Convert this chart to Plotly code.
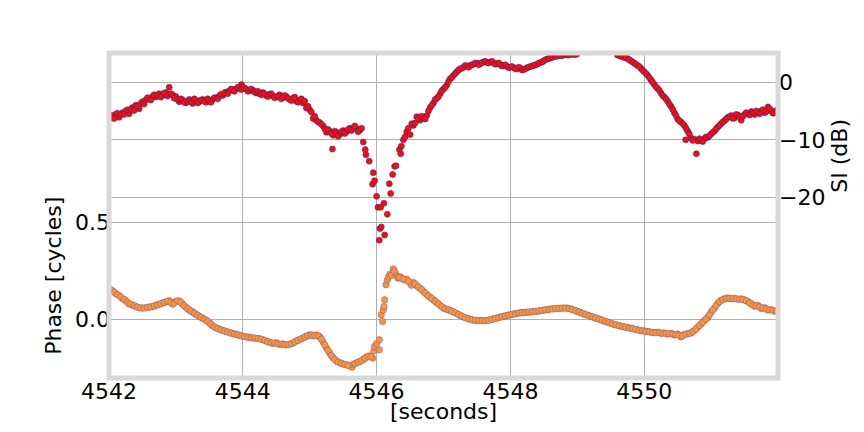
import plotly.graph_objects as go

# ---------------- data ----------------
# SI (dB) samples
si_t = [4542.00, 4542.05, 4542.10, 4542.15, 4542.20, 4542.25, 4542.30, 4542.35, 4542.40, 4542.45,
        4542.50, 4542.55, 4542.60, 4542.65, 4542.70, 4542.75, 4542.80, 4542.85, 4542.90, 4542.95,
        4543.00, 4543.05, 4543.10, 4543.15, 4543.20, 4543.25, 4543.30, 4543.35, 4543.40, 4543.45,
        4543.50, 4543.55, 4543.60, 4543.65, 4543.70, 4543.75, 4543.80, 4543.85, 4543.90, 4543.95,
        4543.98, 4544.00, 4544.05, 4544.10, 4544.15, 4544.20, 4544.25, 4544.30, 4544.35, 4544.40,
        4544.45, 4544.50, 4544.55, 4544.60, 4544.65, 4544.70, 4544.75, 4544.80, 4544.85, 4544.90,
        4544.95, 4545.00, 4545.05, 4545.10, 4545.15, 4545.20, 4545.25, 4545.30, 4545.34, 4545.35,
        4545.40, 4545.45, 4545.50, 4545.55, 4545.60, 4545.65, 4545.70, 4545.75,
        4545.80, 4545.83, 4545.84, 4545.89, 4545.94, 4545.95, 4545.97, 4546.00, 4546.02, 4546.04,
        4546.05, 4546.06, 4546.07, 4546.11, 4546.12, 4546.16, 4546.19, 4546.21, 4546.24, 4546.27,
        4546.29, 4546.34, 4546.36, 4546.37,
        4546.40, 4546.45, 4546.50, 4546.55, 4546.60, 4546.65, 4546.70, 4546.75, 4546.80, 4546.85,
        4546.90, 4546.95, 4547.00, 4547.05, 4547.10, 4547.15, 4547.20, 4547.25, 4547.30, 4547.35,
        4547.40, 4547.45, 4547.50, 4547.55, 4547.60, 4547.65, 4547.70, 4547.75, 4547.80, 4547.85,
        4547.90, 4547.95, 4548.00, 4548.05, 4548.10, 4548.15, 4548.20, 4548.25, 4548.30, 4548.35,
        4548.40, 4548.45, 4548.50, 4548.55, 4548.60, 4548.65, 4548.70, 4548.75, 4548.80, 4548.85,
        4548.90, 4548.95, 4549.00, 4549.10, 4549.25, 4549.40, 4549.52, 4549.60, 4549.65, 4549.70,
        4549.75, 4549.80, 4549.85, 4549.90, 4549.95, 4550.00, 4550.05, 4550.10, 4550.15, 4550.20,
        4550.25, 4550.30, 4550.35, 4550.40, 4550.45, 4550.50, 4550.55, 4550.60, 4550.62, 4550.65,
        4550.70, 4550.75, 4550.78, 4550.80, 4550.85, 4550.90, 4550.95, 4551.00, 4551.05, 4551.10,
        4551.15, 4551.20, 4551.25, 4551.30, 4551.35, 4551.40, 4551.45, 4551.50, 4551.55, 4551.60,
        4551.65, 4551.70, 4551.75, 4551.80, 4551.85, 4551.90, 4551.95, 4552.00]
si_db = [-6.4, -6.0, -5.6, -6.1, -5.3, -5.0, -5.5, -4.4, -4.0, -4.6,
         -3.4, -3.1, -2.9, -2.5, -2.6, -2.0, -2.3, -1.8, -0.9, -2.2,
         -2.5, -3.4, -3.1, -3.6, -3.0, -3.7, -3.2, -3.4, -3.0, -3.5,
         -3.2, -3.0, -2.7, -2.4, -2.3, -1.7, -1.5, -1.3, -1.2, -1.0,
         -0.4, -0.9, -1.2, -1.5, -1.4, -1.9, -2.0, -1.8, -2.3, -2.1,
         -2.4, -2.6, -2.2, -2.7, -2.5, -3.0, -2.8, -3.3, -3.1, -3.6,
         -4.5, -4.8, -6.3, -6.6, -7.0, -7.6, -8.7, -8.5, -11.6, -9.2,
         -8.7, -9.1, -8.4, -8.6, -8.0, -7.9, -8.1, -8.3,
         -10.4, -11.7, -12.6, -13.7, -17.7, -15.7, -17.1, -19.8, -21.7, -27.4,
         -25.4, -21.7, -25.1, -21.0, -26.5, -22.9, -17.6, -19.3, -16.0, -14.6,
         -14.5, -11.7, -12.4, -11.1,
         -10.0, -8.6, -9.1, -7.5, -6.0, -6.6, -6.2, -5.8, -4.4, -3.6,
         -2.8, -2.0, -1.2, -0.5, 0.6, 1.2, 1.8, 2.3, 2.6, 2.8,
         2.9, 3.1, 3.3, 3.2, 3.5, 3.4, 3.5, 3.3, 3.2, 3.0,
         2.9, 2.7, 2.6, 2.5, 2.3, 2.4, 2.2, 2.5, 2.7, 2.9,
         3.1, 3.4, 3.7, 4.0, 4.2, 4.4, 4.5, 4.6, 4.7, 4.7,
         4.8, 4.8, 4.9, 5.9, 6.5, 6.4, 5.6, 4.7, 4.5, 4.3,
         4.1, 3.7, 3.3, 2.9, 2.4, 1.8, 1.2, 0.4, -0.4, -1.1,
         -1.9, -2.6, -3.3, -4.2, -5.3, -6.4, -6.9, -7.5, -10.0, -8.5,
         -9.7, -9.9, -12.4, -10.2, -10.1, -9.8, -9.6, -9.0, -8.5, -7.8,
         -7.2, -6.7, -6.1, -5.8, -6.2, -5.7, -6.6, -5.6, -5.4, -5.1,
         -5.6, -5.2, -5.0, -5.3, -4.3, -5.0, -5.3, -5.0]

# additional SI samples between the ones above
si_t_extra = [4542.025, 4542.075, 4542.125, 4542.175, 4542.225, 4542.275, 4542.325, 4542.375, 4542.425, 4542.475,
              4542.525, 4542.575, 4542.625, 4542.675, 4542.725, 4542.775, 4542.825, 4542.875, 4542.925, 4542.975,
              4543.025, 4543.075, 4543.125, 4543.175, 4543.225, 4543.275, 4543.325, 4543.375, 4543.425, 4543.475,
              4543.525, 4543.575, 4543.625, 4543.675, 4543.725, 4543.775, 4543.825, 4543.875, 4543.925, 4543.975,
              4544.025, 4544.075, 4544.125, 4544.175, 4544.225, 4544.275, 4544.325, 4544.375, 4544.425, 4544.475,
              4544.525, 4544.575, 4544.625, 4544.675, 4544.725, 4544.775, 4544.825, 4544.875, 4544.925, 4544.975,
              4545.025, 4545.075, 4545.125, 4545.175, 4545.225, 4545.275, 4545.325, 4545.375, 4545.425, 4545.475,
              4545.525, 4545.575, 4545.625, 4545.675, 4545.725, 4545.775,
              4546.425, 4546.475, 4546.525, 4546.575, 4546.625, 4546.675, 4546.725, 4546.775, 4546.825, 4546.875,
              4546.925, 4546.975, 4547.025, 4547.075, 4547.125, 4547.175, 4547.225, 4547.275, 4547.325, 4547.375,
              4547.425, 4547.475, 4547.525, 4547.575, 4547.625, 4547.675, 4547.725, 4547.775, 4547.825, 4547.875,
              4547.925, 4547.975, 4548.025, 4548.075, 4548.125, 4548.175, 4548.225, 4548.275, 4548.325, 4548.375,
              4548.425, 4548.475, 4548.525, 4548.575, 4548.625, 4548.675, 4548.725, 4548.775, 4548.825, 4548.875,
              4548.925, 4548.975, 4549.625, 4549.675, 4549.725, 4549.775, 4549.825, 4549.875, 4549.925, 4549.975,
              4550.025, 4550.075, 4550.125, 4550.175, 4550.225, 4550.275, 4550.325, 4550.375, 4550.425, 4550.475,
              4550.525, 4550.575, 4550.625, 4550.675, 4550.725, 4550.825, 4550.875, 4550.925, 4550.975, 4551.025,
              4551.075, 4551.125, 4551.175, 4551.225, 4551.275, 4551.325, 4551.375, 4551.425, 4551.475, 4551.525,
              4551.575, 4551.625, 4551.675, 4551.725, 4551.775, 4551.825, 4551.875, 4551.925, 4551.975]
si_db_extra = [-5.7, -6.3, -5.4, -5.6, -5.6, -4.8, -4.7, -4.9, -4.1, -3.7,
               -3.8, -2.7, -3.1, -2.2, -2.3, -2.6, -1.9, -2.4, -2.0, -2.8,
               -3.0, -2.9, -3.5, -3.3, -3.4, -2.9, -3.6, -3.1, -3.3, -2.9,
               -3.5, -2.7, -2.9, -2.1, -1.9, -2.0, -1.2, -1.6, -0.9, -1.3,
               -1.0, -1.6, -1.2, -1.7, -1.6, -2.2, -2.0, -2.5, -2.0, -2.7,
               -2.4, -2.9, -2.3, -2.8, -3.2, -2.6, -3.5, -2.9, -3.3, -4.2,
               -5.2, -5.9, -6.9, -7.3, -8.1, -8.2, -8.9, -8.5, -9.4, -8.6,
               -8.9, -8.2, -8.4, -7.6, -8.6, -8.0,
               -9.5, -8.0, -7.2, -7.1, -6.3, -5.9, -6.4, -5.0, -4.0, -3.0,
               -2.5, -1.5, -0.9, 0.1, 0.8, 1.5, 2.1, 2.4, 2.9, 2.6,
               3.0, 3.3, 3.0, 3.4, 3.6, 3.3, 3.6, 3.1, 3.3, 2.8,
               3.0, 2.5, 2.7, 2.3, 2.6, 2.1, 2.3, 2.6, 2.8, 3.0,
               3.3, 3.5, 3.9, 4.1, 4.3, 4.5, 4.6, 4.6, 4.8, 4.7,
               4.9, 4.8, 4.6, 4.4, 4.2, 3.9, 3.5, 3.1, 2.7, 2.1,
               1.5, 0.8, 0.0, -0.8, -1.4, -2.3, -2.9, -3.8, -4.7, -5.8,
               -6.7, -7.2, -8.0, -9.0, -10.1, -9.8, -10.3, -9.5, -9.3, -8.7,
               -8.1, -7.5, -6.9, -6.4, -6.0, -6.3, -5.6, -6.0, -5.9, -5.3,
               -5.7, -5.3, -5.0, -5.5, -4.8, -5.1, -4.6, -5.4, -4.9]

# Phase (cycles) samples
ph_t = [4542.00, 4542.05, 4542.10, 4542.15, 4542.20, 4542.25, 4542.30, 4542.35, 4542.40, 4542.45,
        4542.50, 4542.55, 4542.60, 4542.65, 4542.70, 4542.75, 4542.80, 4542.85, 4542.90, 4542.95,
        4543.00, 4543.05, 4543.10, 4543.15, 4543.20, 4543.25, 4543.30, 4543.35, 4543.40, 4543.45,
        4543.50, 4543.55, 4543.60, 4543.65, 4543.70, 4543.75, 4543.80, 4543.85, 4543.90, 4543.95,
        4544.00, 4544.05, 4544.10, 4544.15, 4544.20, 4544.25, 4544.30, 4544.35, 4544.40, 4544.45,
        4544.50, 4544.55, 4544.60, 4544.65, 4544.70, 4544.75, 4544.80, 4544.85, 4544.90, 4544.95,
        4545.00, 4545.05, 4545.10, 4545.15, 4545.20, 4545.25, 4545.30, 4545.35, 4545.40, 4545.45,
        4545.50, 4545.55, 4545.60, 4545.63, 4545.65, 4545.70, 4545.75, 4545.80, 4545.85, 4545.90,
        4545.94, 4545.96, 4545.97, 4546.00, 4546.04, 4546.04, 4546.07, 4546.09, 4546.10, 4546.11,
        4546.12, 4546.14, 4546.16, 4546.18, 4546.20, 4546.22, 4546.25, 4546.28, 4546.30, 4546.32,
        4546.35, 4546.38, 4546.42, 4546.45, 4546.50, 4546.52, 4546.55, 4546.60, 4546.65, 4546.70,
        4546.75, 4546.80, 4546.85, 4546.90, 4546.95, 4547.00, 4547.05, 4547.10, 4547.15, 4547.20,
        4547.25, 4547.30, 4547.35, 4547.40, 4547.45, 4547.50, 4547.55, 4547.60, 4547.65, 4547.70,
        4547.75, 4547.80, 4547.85, 4547.90, 4547.95, 4548.00, 4548.05, 4548.10, 4548.15, 4548.20,
        4548.25, 4548.30, 4548.35, 4548.40, 4548.45, 4548.50, 4548.55, 4548.60, 4548.65, 4548.70,
        4548.75, 4548.80, 4548.85, 4548.90, 4548.95, 4549.00, 4549.05, 4549.10, 4549.15, 4549.20,
        4549.25, 4549.30, 4549.35, 4549.40, 4549.45, 4549.50, 4549.55, 4549.60, 4549.65, 4549.70,
        4549.75, 4549.80, 4549.85, 4549.90, 4549.95, 4550.00, 4550.05, 4550.10, 4550.15, 4550.20,
        4550.25, 4550.30, 4550.35, 4550.40, 4550.45, 4550.50, 4550.55, 4550.60, 4550.65, 4550.70,
        4550.75, 4550.80, 4550.85, 4550.90, 4550.95, 4551.00, 4551.05, 4551.10, 4551.15, 4551.20,
        4551.25, 4551.30, 4551.35, 4551.40, 4551.45, 4551.50, 4551.55, 4551.60, 4551.65, 4551.70,
        4551.75, 4551.80, 4551.85, 4551.90, 4551.95, 4552.00]
ph_cyc = [0.160, 0.150, 0.135, 0.125, 0.110, 0.098, 0.082, 0.076, 0.068, 0.062,
          0.060, 0.062, 0.066, 0.068, 0.074, 0.080, 0.086, 0.092, 0.098, 0.080,
          0.094, 0.096, 0.080, 0.064, 0.050, 0.040, 0.028, 0.018, 0.008, -0.002,
          -0.015, -0.032, -0.042, -0.048, -0.055, -0.060, -0.066, -0.071, -0.075, -0.080,
          -0.085, -0.088, -0.091, -0.094, -0.095, -0.098, -0.103, -0.110, -0.116, -0.122,
          -0.118, -0.128, -0.125, -0.130, -0.126, -0.120, -0.110, -0.102, -0.094, -0.085,
          -0.077, -0.082, -0.078, -0.088, -0.115, -0.145, -0.172, -0.197, -0.212, -0.222,
          -0.228, -0.232, -0.238, -0.244, -0.230, -0.222, -0.215, -0.205, -0.192, -0.186,
          -0.197, -0.160, -0.137, -0.122, -0.103, -0.154, 0.026, -0.009, 0.050, 0.068,
          0.103, 0.180, 0.205, 0.220, 0.235, 0.228, 0.262, 0.240, 0.225, 0.214,
          0.222, 0.212, 0.205, 0.208, 0.190, 0.178, 0.192, 0.175, 0.162, 0.146,
          0.130, 0.116, 0.102, 0.088, 0.074, 0.060, 0.054, 0.048, 0.040, 0.032,
          0.022, 0.014, 0.008, 0.002, -0.002, -0.003, -0.004, -0.005, -0.004, 0.000,
          0.005, 0.009, 0.014, 0.018, 0.022, 0.026, 0.030, 0.033, 0.036, 0.038,
          0.039, 0.040, 0.042, 0.044, 0.047, 0.050, 0.052, 0.055, 0.057, 0.058,
          0.059, 0.060, 0.060, 0.056, 0.050, 0.043, 0.037, 0.030, 0.024, 0.018,
          0.012, 0.006, 0.001, -0.006, -0.012, -0.018, -0.024, -0.028, -0.033, -0.037,
          -0.040, -0.044, -0.048, -0.052, -0.056, -0.058, -0.061, -0.064, -0.066, -0.064,
          -0.070, -0.068, -0.074, -0.070, -0.078, -0.074, -0.089, -0.076, -0.072, -0.068,
          -0.055, -0.038, -0.022, -0.004, 0.012, 0.040, 0.060, 0.085, 0.100, 0.108,
          0.112, 0.108, 0.110, 0.106, 0.107, 0.102, 0.094, 0.082, 0.070, 0.074,
          0.058, 0.062, 0.050, 0.052, 0.044, 0.042]

# additional phase samples between the ones above
ph_t_extra = [4542.025, 4542.075, 4542.125, 4542.175, 4542.225, 4542.275, 4542.325, 4542.375, 4542.425, 4542.475,
              4542.525, 4542.575, 4542.625, 4542.675, 4542.725, 4542.775, 4542.825, 4542.875, 4542.925, 4542.975,
              4543.025, 4543.075, 4543.125, 4543.175, 4543.225, 4543.275, 4543.325, 4543.375, 4543.425, 4543.475,
              4543.525, 4543.575, 4543.625, 4543.675, 4543.725, 4543.775, 4543.825, 4543.875, 4543.925, 4543.975,
              4544.025, 4544.075, 4544.125, 4544.175, 4544.225, 4544.275, 4544.325, 4544.375, 4544.425, 4544.475,
              4544.525, 4544.575, 4544.625, 4544.675, 4544.725, 4544.775, 4544.825, 4544.875, 4544.925, 4544.975,
              4545.025, 4545.075, 4545.125, 4545.175, 4545.225, 4545.275, 4545.325, 4545.375, 4545.425, 4545.475,
              4545.525, 4545.575, 4545.675, 4545.725, 4545.775, 4545.825, 4545.875, 4545.915,
              4546.265, 4546.335, 4546.400, 4546.475, 4546.575, 4546.625, 4546.675, 4546.725, 4546.775, 4546.825,
              4546.875, 4546.925, 4546.975, 4547.025, 4547.075, 4547.125, 4547.175, 4547.225, 4547.275, 4547.325,
              4547.375, 4547.425, 4547.475, 4547.525, 4547.575, 4547.625, 4547.675, 4547.725, 4547.775, 4547.825,
              4547.875, 4547.925, 4547.975, 4548.025, 4548.075, 4548.125, 4548.175, 4548.225, 4548.275, 4548.325,
              4548.375, 4548.425, 4548.475, 4548.525, 4548.575, 4548.625, 4548.675, 4548.725, 4548.775, 4548.825,
              4548.875, 4548.925, 4548.975, 4549.025, 4549.075, 4549.125, 4549.175, 4549.225, 4549.275, 4549.325,
              4549.375, 4549.425, 4549.475, 4549.525, 4549.575, 4549.625, 4549.675, 4549.725, 4549.775, 4549.825,
              4549.875, 4549.925, 4549.975, 4550.025, 4550.075, 4550.125, 4550.175, 4550.225, 4550.275, 4550.325,
              4550.375, 4550.425, 4550.475, 4550.525, 4550.575, 4550.625, 4550.675, 4550.725, 4550.775, 4550.825,
              4550.875, 4550.925, 4550.975, 4551.025, 4551.075, 4551.125, 4551.175, 4551.225, 4551.275, 4551.325,
              4551.375, 4551.425, 4551.475, 4551.525, 4551.575, 4551.625, 4551.675, 4551.725, 4551.775, 4551.825,
              4551.875, 4551.925, 4551.975]
ph_cyc_extra = [0.155, 0.143, 0.130, 0.118, 0.104, 0.090, 0.080, 0.072, 0.065, 0.061,
                0.060, 0.064, 0.066, 0.071, 0.077, 0.083, 0.089, 0.095, 0.090, 0.086,
                0.098, 0.090, 0.072, 0.057, 0.045, 0.034, 0.023, 0.013, 0.003, -0.008,
                -0.024, -0.037, -0.045, -0.052, -0.058, -0.063, -0.069, -0.073, -0.078, -0.083,
                -0.087, -0.090, -0.092, -0.094, -0.097, -0.100, -0.106, -0.113, -0.119, -0.120,
                -0.123, -0.126, -0.128, -0.128, -0.123, -0.115, -0.106, -0.098, -0.090, -0.081,
                -0.079, -0.080, -0.083, -0.100, -0.130, -0.158, -0.185, -0.205, -0.218, -0.225,
                -0.230, -0.235, -0.226, -0.218, -0.210, -0.198, -0.190, -0.190,
                0.250, 0.218, 0.210, 0.200, 0.185, 0.168, 0.154, 0.138, 0.123, 0.109,
                0.095, 0.081, 0.067, 0.057, 0.051, 0.044, 0.036, 0.027, 0.018, 0.011,
                0.005, 0.000, -0.003, -0.003, -0.005, -0.005, -0.002, 0.002, 0.007, 0.011,
                0.016, 0.020, 0.024, 0.028, 0.031, 0.035, 0.037, 0.038, 0.040, 0.041,
                0.043, 0.045, 0.048, 0.051, 0.054, 0.056, 0.057, 0.058, 0.060, 0.060,
                0.058, 0.053, 0.046, 0.040, 0.033, 0.027, 0.021, 0.015, 0.009, 0.003,
                -0.003, -0.009, -0.015, -0.021, -0.026, -0.030, -0.035, -0.038, -0.042, -0.046,
                -0.050, -0.054, -0.057, -0.060, -0.062, -0.065, -0.067, -0.066, -0.069, -0.071,
                -0.072, -0.074, -0.076, -0.080, -0.082, -0.074, -0.070, -0.062, -0.047, -0.030,
                -0.013, 0.004, 0.026, 0.050, 0.073, 0.093, 0.104, 0.110, 0.110, 0.109,
                0.108, 0.106, 0.105, 0.098, 0.088, 0.076, 0.072, 0.066, 0.060, 0.056,
                0.051, 0.048, 0.043]

x_ticks = [4542, 4544, 4546, 4548, 4550]
phase_ticks = [0.0, 0.5]
phase_tick_text = ["0.0", "0.5"]
si_ticks = [0, -10, -20]
si_tick_text = ["0", "\u221210", "\u221220"]

# ---------------- figure ----------------
FONT = "DejaVu Sans"
FS = 22
GRID = "#b0b0b0"
W, H = 864, 432
L, R, T, B = 108.7, 85.5, 52.5, 53.7
PW, PH = W - L - R, H - T - B


def px_to_paper(px, py):
    return (px - L) / PW, (H - B - py) / PH


fig = go.Figure()
fig.add_trace(go.Scatter(
    x=si_t + si_t_extra, y=si_db + si_db_extra, mode="markers", yaxis="y2", name="SI",
    marker=dict(size=6, color="#ff0a0a", line=dict(color="#3d2a80", width=0.6)),
    showlegend=False,
))
fig.add_trace(go.Scatter(
    x=ph_t + ph_t_extra, y=ph_cyc + ph_cyc_extra, mode="markers", yaxis="y", name="Phase",
    marker=dict(size=6.5, color="#f8943c", line=dict(color="#7a4a96", width=0.4)),
    showlegend=False,
))

ann = []
for text, (px, py), ang in [("[seconds]", (443.6, 412), 0),
                            ("Phase [cycles]", (53, 275.5), -90),
                            ("SI (dB)", (840, 155), -90)]:
    xp, yp = px_to_paper(px, py)
    ann.append(dict(text=text, xref="paper", yref="paper", x=xp, y=yp,
                    textangle=ang, xanchor="center", yanchor="middle",
                    showarrow=False, font=dict(family=FONT, size=FS, color="black")))

fig.update_layout(
    width=W, height=H,
    margin=dict(l=L, r=R, t=T, b=B, autoexpand=False),
    paper_bgcolor="white", plot_bgcolor="white",
    font=dict(family=FONT, size=FS, color="black"),
    xaxis=dict(range=[4542, 4552], tickvals=x_ticks, ticktext=[str(v) for v in x_ticks],
               showgrid=True, gridcolor=GRID, gridwidth=1, zeroline=False,
               ticks="", showline=False, ticklabelstandoff=-2),
    yaxis=dict(range=[-0.3, 1.374], tickvals=phase_ticks, ticktext=phase_tick_text,
               showgrid=True, gridcolor=GRID, gridwidth=1, zeroline=False,
               ticks="", showline=False, ticklabelstandoff=-2),
    yaxis2=dict(range=[-51.3, 5.05], tickvals=si_ticks, ticktext=si_tick_text,
                overlaying="y", side="right",
                showgrid=True, gridcolor=GRID, gridwidth=1, zeroline=False,
                ticks="", showline=False, ticklabelstandoff=0),
    shapes=[dict(type="rect", xref="paper", yref="paper", x0=0, x1=1, y0=0, y1=1,
                 line=dict(color="#d9d9d9", width=5), layer="above")],
    annotations=ann,
)

fig.write_html("out.html", config={"displayModeBar": False},
               post_script="document.body.style.margin='0px';")
